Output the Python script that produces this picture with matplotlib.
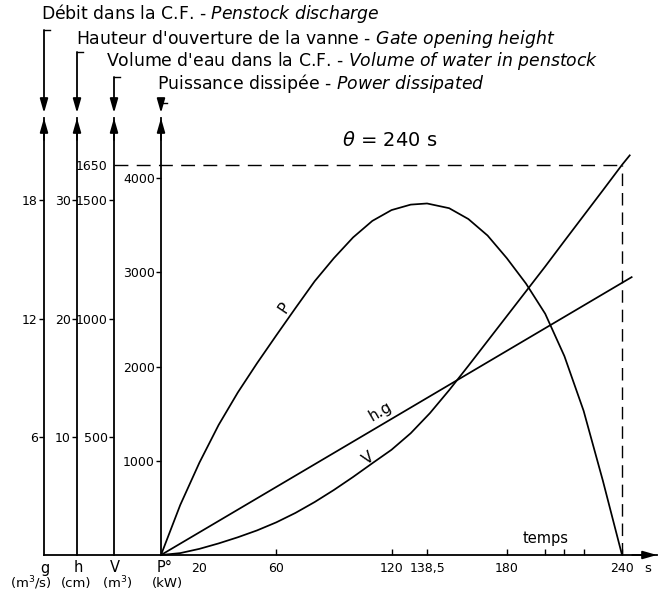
import matplotlib.pyplot as plt
from matplotlib.lines import Line2D

# --- data ---
# power dissipated P (kW) vs time (s)
t_p = [0, 10, 20, 30, 40, 50, 60, 70, 80, 90, 100, 110, 120, 130, 138.5,
       150, 160, 170, 180, 190, 200, 210, 220, 230, 240]
p_kw = [0, 530, 980, 1380, 1725, 2035, 2330, 2620, 2905, 3150, 3370, 3545, 3660,
        3718, 3730, 3680, 3565, 3390, 3150, 2880, 2560, 2110, 1530, 790, 0]

# volume of water in penstock V (m3) vs time (s)
t_v = [0, 10, 20, 30, 40, 50, 60, 70, 80, 90, 100, 110, 120, 130, 140, 150,
       160, 170, 180, 190, 200, 210, 220, 230, 240, 244]
v_m3 = [0, 8, 26, 49, 75, 104, 138, 178, 224, 275, 330, 388, 445, 515, 600, 697,
        800, 905, 1010, 1115, 1220, 1328, 1435, 1542, 1650, 1690]

# gate opening h (cm) / discharge g, one straight line
t_hg = [0, 245]
h_cm = [0, 23.5]

theta = 240
v_theta = 1650

x_ticks = [20, 60, 120, 138.5, 180, 240]
x_ticklabels = ['20', '60', '120', '138,5', '180', '240']
x_minor = [200, 210, 220]
p_ticks = [1000, 2000, 3000, 4000]
v_ticks = [500, 1000, 1500, 1650]
h_ticks = [10, 20, 30]
g_ticks = [6, 12, 18]

W, H = 668, 598
LW = 1.3
fig = plt.figure(figsize=(W / 100, H / 100), dpi=100)
ax = fig.add_axes([161 / W, 43 / H, 496 / W, 437 / H])
ax.set_xlim(0, 258.2)
ax.set_ylim(0, 4637)
for s in ['top', 'right']:
    ax.spines[s].set_visible(False)
for s in ['left', 'bottom']:
    ax.spines[s].set_linewidth(LW)

ax.set_xticks(x_ticks, x_ticklabels)
ax.set_xticks(x_minor, minor=True)
ax.tick_params(axis='x', which='both', direction='in', length=4, width=1, labelsize=9, pad=5)
ax.xaxis.get_major_ticks()[0].tick1line.set_visible(False)
ax.set_yticks(p_ticks, [str(v) for v in p_ticks])
ax.tick_params(axis='y', direction='out', length=3.5, width=1, labelsize=9, pad=1)


def scale_axis(pos, top, ticks):
    a = ax.twinx()
    a.set_ylim(0, top)
    for s in ['top', 'right', 'bottom']:
        a.spines[s].set_visible(False)
    a.spines['left'].set_visible(True)
    a.spines['left'].set_linewidth(LW)
    a.spines['left'].set_position(('axes', pos))
    a.yaxis.set_ticks_position('left')
    a.yaxis.set_label_position('left')
    a.set_yticks(ticks, [str(v) for v in ticks])
    a.tick_params(axis='y', direction='out', length=3.5, width=1, labelsize=9, pad=1)
    return a


# spine positions (pixels) of the four scales
x_g, x_h, x_v, x_p = 44, 77, 114, 161
f_g = (x_g - x_p) / 496
f_h = (x_h - x_p) / 496
f_v = (x_v - x_p) / 496

ax_v = scale_axis(f_v, 1848, v_ticks)
ax_v.yaxis.get_major_ticks()[3].tick1line.set_visible(False)
ax_h = scale_axis(f_h, 1848 / 50, h_ticks)
ax_g = scale_axis(f_g, 1848 * 6 / 500, g_ticks)

# curves
ax.plot(t_p, p_kw, color='k', lw=1.25)
ax_v.plot(t_v, v_m3, color='k', lw=1.25, clip_on=False)
ax_h.plot(t_hg, h_cm, color='k', lw=1.25, clip_on=False)

# theta construction lines
x_left = f_v * 258.2
ax_v.plot([x_left, theta], [v_theta, v_theta], color='k', lw=1, ls=(0, (10, 6)), clip_on=False)
ax_v.plot([theta, theta], [0, v_theta], color='k', lw=1, ls=(0, (9, 5)), clip_on=False)

# baseline continued to the left scales
ax.plot([f_g, 0], [0, 0], color='k', lw=LW, transform=ax.transAxes, clip_on=False)

arrow = dict(arrowstyle='-|>,head_length=0.7,head_width=0.2', color='k', lw=LW,
             mutation_scale=12, shrinkA=0, shrinkB=0)
for f in [f_g, f_h, f_v, 0]:
    ax.annotate('', xy=(f, 1.0), xytext=(f, 0.95), xycoords='axes fraction',
                arrowprops=arrow, annotation_clip=False)
ax.annotate('', xy=(1.0, 0), xytext=(0.95, 0), xycoords='axes fraction',
            arrowprops=arrow, annotation_clip=False)

# header labels with their brackets
headers = [
    (41, 19, "Débit dans la C.F. - $\\mathit{Penstock\\ discharge}$", x_g, 30),
    (76, 44, "Hauteur d'ouverture de la vanne - $\\mathit{Gate\\ opening\\ height}$", x_h, 52),
    (106, 66, "Volume d'eau dans la C.F. - $\\mathit{Volume\\ of\\ water\\ in\\ penstock}$", x_v, 77),
    (157, 89, "Puissance dissipée - $\\mathit{Power\\ dissipated}$", x_p, 103),
]
for tx, ty, txt, bx, by in headers:
    fig.text(tx / W, 1 - ty / H, txt, fontsize=12.4, va='baseline', ha='left')
    fig.add_artist(Line2D([bx / W, (bx + 6) / W], [1 - by / H, 1 - by / H],
                          transform=fig.transFigure, color='k', lw=1))
    ax.annotate('', xy=(bx / W, 1 - 113 / H), xytext=(bx / W, 1 - by / H),
                xycoords='figure fraction', arrowprops=arrow, annotation_clip=False)

# scale names under the axis
for x, name in [(45, 'g'), (78, 'h'), (115, 'V'), (165, 'P°')]:
    fig.text(x / W, 1 - 568 / H, name, fontsize=10.5, ha='center', va='center')
for x, unit in [(31, '(m$^3$/s)'), (76, '(cm)'), (117, '(m$^3$)'), (167, '(kW)')]:
    fig.text(x / W, 1 - 583 / H, unit, fontsize=9.5, ha='center', va='center')

# annotations inside the plot
ax.text(119, 4400, r'$\theta$ = 240 s', fontsize=14, ha='center', va='center')
ax.text(253.5, -140, 's', fontsize=9.5, ha='center', va='center', clip_on=False)
ax.text(200, 170, 'temps', fontsize=10.5, ha='center', va='center')
ax.text(64, 2620, 'P', fontsize=11, rotation=56, ha='center', va='center')
ax.text(114, 1520, 'h.g', fontsize=11, rotation=30, ha='center', va='center')
ax.text(108, 1030, 'V', fontsize=11, rotation=36, ha='center', va='center')

fig.savefig('out.png', dpi=100)
